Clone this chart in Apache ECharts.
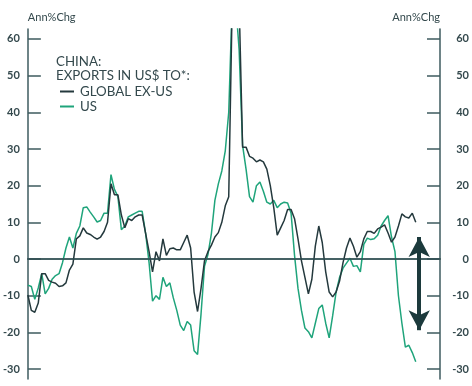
<!DOCTYPE html>
<html>
<head>
<meta charset="utf-8">
<script src="https://cdn.jsdelivr.net/npm/echarts@6/dist/echarts.min.js"></script>
<style>html,body{margin:0;padding:0;background:#fff}#c{width:472px;height:386px}</style>
</head>
<body>
<div id="c"></div>
<script>
// Monthly categories Jan 2016 .. Dec 2025
const months = [];
for (let y = 2016; y <= 2025; y++) for (let m = 1; m <= 12; m++) months.push(y + '-' + (m < 10 ? '0' + m : m));

const yTicks = [-30, -20, -10, 0, 10, 20, 30, 40, 50, 60];

// China exports in US$, Ann%Chg: to global ex-US
const globalExUS = [
  -9.8, -14, -14.5, -12, -4, -4, -5.8, -6.3, -6.6, -7.5,
  -7.3, -6.5, -3, -1.4, 5.5, 6.3, 8.5, 7.1, 6.7, 6,
  5.4, 6, 7.5, 10, 20.5, 17.5, 17.5, 12, 8.5, 11,
  10.5, 11.5, 12, 12, 7, 2, -3.5, 2, -0.5, 5.5,
  1, 2.8, 3, 2.5, 2.5, 4.5, 6.5, 3, -9, -14.3,
  -8, -0.5, 2, 3.8, 6, 7.2, 10, 14.5, 17, 70,
  70, 70, 30.5, 30.5, 28, 27.5, 26.5, 27, 26.5, 24.5,
  20, 14, 6.5, 8.5, 10.5, 13.5, 13.5, 11, 5.5, -0.5,
  -5, -9.5, -5.5, 3.5, 9, 4.5, -3.5, -9, -10.3, -9,
  -6, -1, 3, 5.7, 3.5, 0.5, 2, 5.5, 7.5, 7.5,
  7, 8.2, 8.7, 9.3, 7.1, 4.6, 6, 9, 12.3, 11.5,
  11.2, 12.5, 10
];
// China exports in US$, Ann%Chg: to US
const toUS = [
  -7.1, -7.5, -11, -7.9, -4, -9.5, -8, -5.5, -4.5, -4,
  -1, 3, 6, 3, 7, 9, 14, 14.2, 12.8, 11.5,
  10.1, 10.5, 12.5, 12.5, 23, 19, 17, 8, 9, 11.5,
  12, 12.5, 13, 13, 7, -1, -11.5, -10, -11, -5,
  -7.5, -6.5, -10.6, -14, -18, -19.5, -17, -18, -25, -26,
  -15, -2, 1.2, 7, 16, 20.5, 24, 29.5, 40, 70,
  70, 57, 31, 24.5, 17, 15.5, 20, 21, 18.5, 15.5,
  15, 16, 14, 15, 15.5, 15.3, 12.5, 1, -8, -14,
  -18.8, -19.8, -21.5, -17.5, -13.5, -12.5, -17.5, -21.5, -15.5, -9,
  -5, -2.5, -1.1, 0.2, -2, -1.8, -3.5, 4, 5.7, 5.3,
  5.5, 6.5, 9, 10.5, 11.8, 6, 2, -10, -17.5, -24,
  -23.5, -25.5, -28
];
// Double-headed arrow annotation (month index, value range)
const arrowAt = 113;
const arrowRange = [6, -19.4];

const dark = '#24393d', green = '#1fa47b', axisC = '#3e5b5f', frameC = '#8aa2a3', textC = '#34494d';
const FONT = 'Lato';

const chart = echarts.init(document.getElementById('c'));
const yAxisCommon = {
  type: 'value', min: -32.7, max: 62.7,
  splitLine: { show: false },
  axisLine: { show: true, lineStyle: { color: axisC, width: 1.5 } },
  axisTick: { show: true, inside: true, length: 13, customValues: yTicks, lineStyle: { color: axisC, width: 1.5 } },
  axisLabel: { customValues: yTicks, color: textC, fontSize: 11, fontFamily: FONT, fontWeight: 'bold', align: 'right' },
  nameLocation: 'end', nameGap: 6,
};
chart.setOption({
  animation: false,
  textStyle: { fontFamily: FONT },
  grid: { left: 27, right: 31, top: 29, bottom: 7 },
  title: {
    text: 'CHINA:\nEXPORTS IN US$ TO*:', left: 56, top: 55, padding: 0,
    textStyle: { color: textC, fontSize: 13.3, fontWeight: 'normal', fontFamily: FONT, lineHeight: 14 }
  },
  legend: {
    orient: 'vertical', left: 60, top: 85, padding: 0, itemWidth: 14, itemHeight: 2, itemGap: 2, icon: 'rect',
    textStyle: { color: textC, fontSize: 13.3, fontFamily: FONT, lineHeight: 13, padding: [0, 0, 0, 1] },
    data: ['GLOBAL EX-US', 'US']
  },
  xAxis: [
    { type: 'category', data: months, boundaryGap: false, axisLine: { lineStyle: { color: frameC, width: 2 } }, axisTick: { show: false }, axisLabel: { show: false } },
    { type: 'category', data: months, boundaryGap: false, position: 'top', axisLine: { lineStyle: { color: frameC, width: 2 } }, axisTick: { show: false }, axisLabel: { show: false } }
  ],
  yAxis: [
    Object.assign({}, yAxisCommon, { position: 'left', name: 'Ann%Chg', nameTextStyle: { color: textC, fontSize: 11, fontFamily: FONT, align: 'left' },
      axisLabel: Object.assign({}, yAxisCommon.axisLabel, { margin: 8 }) }),
    Object.assign({}, yAxisCommon, { position: 'right', name: 'Ann%Chg', nameTextStyle: { color: textC, fontSize: 11, fontFamily: FONT, align: 'right' },
      axisLabel: Object.assign({}, yAxisCommon.axisLabel, { margin: 29 }) })
  ],
  series: [
    { name: 'US', type: 'line', data: toUS, symbol: 'none', lineStyle: { color: green, width: 1.5 }, itemStyle: { color: green }, z: 2 },
    { name: 'GLOBAL EX-US', type: 'line', data: globalExUS, symbol: 'none', lineStyle: { color: dark, width: 1.5 }, itemStyle: { color: dark }, z: 3,
      markLine: {
        silent: true, animation: false,
        data: [
          [{ yAxis: 0, x: 27, symbol: 'none', lineStyle: { color: '#2e4b4f', width: 1.5 } }, { yAxis: 0, x: 441, symbol: 'none' }],
          [{ coord: [arrowAt, arrowRange[0]], symbol: 'arrow', lineStyle: { color: '#1c3a3c', width: 4 } }, { coord: [arrowAt, arrowRange[1]], symbol: 'arrow' }]
        ],
        symbolSize: [16, 20],
        label: { show: false },
        lineStyle: { color: '#1c3a3c', width: 1.5, type: 'solid' }
      }
    }
  ]
});
</script>
</body>
</html>
